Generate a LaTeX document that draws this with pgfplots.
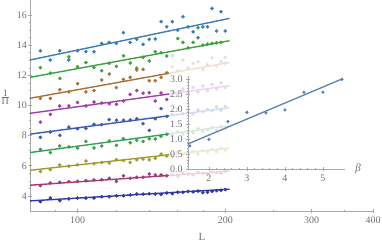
\documentclass[border=0pt]{standalone}
\usepackage{pgfplots}
\usepackage{pgfplotstable}
\pgfplotsset{compat=1.18}
\usepackage{fontspec}
\setmainfont{Liberation Serif}
\definecolor{axgray}{HTML}{A8A8A8}
\definecolor{labgray}{HTML}{707070}
\definecolor{c1}{HTML}{3D7DB3}
\definecolor{c2}{HTML}{3DA23D}
\definecolor{c3}{HTML}{A5723A}
\definecolor{c4}{HTML}{A23FA6}
\definecolor{c5}{HTML}{3A5BB0}
\definecolor{c6}{HTML}{3A9E55}
\definecolor{c7}{HTML}{A39A2E}
\definecolor{c8}{HTML}{A33A7A}
\definecolor{c9}{HTML}{30399E}
\definecolor{cin}{HTML}{5E81B5}
\pgfplotstableread{
L s1 s2 s3 s4 s5 s6 s7 s8 s9
84 13.63 12.51 10.47 8.90 7.88 7.09 5.62 4.68 3.62
88 13.02 12.15 10.47 9.41 8.24 6.87 5.75 4.86 3.86
92 13.63 11.80 11.05 9.97 8.02 7.31 6.05 4.91 3.69
96 13.02 13.23 10.90 9.97 8.57 7.25 5.98 4.95 3.80
100 13.63 12.57 11.45 10.20 8.46 7.18 6.07 4.97 3.86
104 13.57 12.85 10.90 9.97 8.48 7.62 6.32 5.01 3.86
108 13.57 12.52 11.00 10.23 8.75 7.18 6.13 5.06 3.86
112 14.12 12.30 11.69 10.16 8.73 7.31 6.22 5.08 3.95
116 14.19 12.80 12.09 10.12 9.06 7.64 6.19 5.17 3.95
120 14.12 12.60 11.19 10.08 9.02 7.36 6.41 4.97 4.01
124 14.83 13.30 11.73 10.30 9.02 7.80 6.35 5.34 4.01
128 14.19 12.82 11.87 10.74 9.04 7.53 6.23 5.17 4.06
132 14.39 12.47 12.35 11.00 9.12 7.70 6.40 5.24 4.13
136 14.06 13.20 12.40 10.82 8.79 7.62 6.45 5.24 4.12
140 14.39 12.95 11.64 10.85 8.35 7.80 6.40 5.46 4.15
144 14.41 13.57 11.64 10.30 9.12 7.78 6.50 5.39 4.13
148 15.56 13.50 11.87 10.83 9.79 7.96 6.78 5.39 4.10
152 15.22 13.28 12.17 10.40 9.28 8.09 6.65 5.34 4.20
156 15.56 13.28 12.57 10.95 9.40 8.00 6.60 5.40 4.15
160 15.00 14.45 12.30 10.70 9.75 8.25 6.90 5.30 4.25
164 15.89 14.19 13.02 11.10 9.45 8.10 6.75 5.50 4.25
168 15.22 13.83 12.50 10.85 9.55 8.30 6.85 5.45 4.30
172 14.89 14.19 12.80 11.20 9.45 8.20 6.95 5.40 4.27
176 14.50 15.16 12.90 10.90 9.70 8.45 6.80 5.55 4.32
180 15.22 14.01 12.40 11.30 9.60 8.30 7.00 5.50 4.22
184 15.22 14.06 12.70 11.00 9.75 8.40 6.95 5.45 4.25
188 16.44 14.12 13.17 11.40 9.65 8.55 7.10 5.60 4.30
192 14.94 14.16 12.64 11.10 9.90 8.35 6.95 5.55 4.35
196 16.22 14.19 12.90 11.50 9.70 8.60 7.15 5.50 4.38
200 14.94 13.20 12.80 11.20 9.95 8.50 7.05 5.65 4.42
}\maindata
\pgfplotstableread{
b s
1.5 0.77
2.0 0.99
2.5 1.58
3.0 1.89
3.5 1.87
4.0 1.97
4.5 2.56
5.0 2.56
5.5 2.99
}\insetdata
\begin{document}
\begin{tikzpicture}[x=1bp,y=1bp]
\begin{axis}[
  at={(30bp,33bp)}, anchor=south west,
  scale only axis, width=343bp, height=211bp,
  xmode=log, xmin=80, xmax=400, ymin=3, ymax=17,
  axis x line=bottom, axis y line=left,
  x axis line style={-}, y axis line style={-},
  axis line style={draw=axgray, line width=0.7bp},
  xtick={100,200,300,400}, xticklabels={100,200,300,400},
  minor xtick={90,120,140,160,180,250,350},
  ytick={4,6,8,10,12,14,16}, yticklabels={4,6,8,10,12,14,16},
  minor y tick num=3,
  tick style={draw=axgray, line width=0.6bp},
  major tick length=4bp, minor tick length=2.5bp,
  tick label style={font=\fontsize{10}{12}\selectfont, text=labgray},
  yticklabel style={inner sep=1bp},
  xlabel={L}, xlabel style={font=\fontsize{11}{13}\selectfont, text=labgray, at={(axis description cs:0.501,-0.123)}, anchor=center},
  ylabel={$\frac{\mbox{1}}{\mbox{Π}}$}, ylabel style={font=\fontsize{10}{12}\selectfont, text=labgray, rotate=-90, inner sep=0pt, at={(axis description cs:-0.072,0.54)}, anchor=center},
  clip=false,
]
\addplot[c1, only marks, mark=*, mark size=1.6bp] table[x=L,y=s1]{\maindata};
\addplot[c2, only marks, mark=*, mark size=1.6bp] table[x=L,y=s2]{\maindata};
\addplot[c3, only marks, mark=*, mark size=1.6bp] table[x=L,y=s3]{\maindata};
\addplot[c4, only marks, mark=*, mark size=1.6bp] table[x=L,y=s4]{\maindata};
\addplot[c5, only marks, mark=*, mark size=1.6bp] table[x=L,y=s5]{\maindata};
\addplot[c6, only marks, mark=*, mark size=1.6bp] table[x=L,y=s6]{\maindata};
\addplot[c7, only marks, mark=*, mark size=1.6bp] table[x=L,y=s7]{\maindata};
\addplot[c8, only marks, mark=*, mark size=1.6bp] table[x=L,y=s8]{\maindata};
\addplot[c9, only marks, mark=*, mark size=1.6bp] table[x=L,y=s9]{\maindata};
\addplot[c1, line width=1.4bp, no marks] coordinates {(80,13.02) (204,15.78)};
\addplot[c2, line width=1.4bp, no marks] coordinates {(80,11.87) (204,14.30)};
\addplot[c3, line width=1.4bp, no marks] coordinates {(80,10.48) (204,12.86)};
\addplot[c4, line width=1.4bp, no marks] coordinates {(80,9.48) (204,11.32)};
\addplot[c5, line width=1.4bp, no marks] coordinates {(80,8.10) (204,9.85)};
\addplot[c6, line width=1.4bp, no marks] coordinates {(80,6.88) (204,8.65)};
\addplot[c7, line width=1.4bp, no marks] coordinates {(80,5.70) (204,7.18)};
\addplot[c8, line width=1.4bp, no marks] coordinates {(80,4.71) (204,5.64)};
\addplot[c9, line width=1.4bp, no marks] coordinates {(80,3.67) (204,4.45)};
\end{axis}
\fill[white, opacity=0.78] (169,59) rectangle (368,189);
\begin{axis}[
  at={(188bp,75bp)}, anchor=south west,
  scale only axis, width=157bp, height=93bp,
  xmin=1.45, xmax=5.58, ymin=0, ymax=3.1,
  axis x line=bottom, axis y line=left,
  x axis line style={-}, y axis line style={-},
  axis line style={draw=axgray, line width=0.7bp},
  xtick={2,3,4,5}, xticklabels={2,3,4,5}, minor x tick num=4,
  ytick={0,0.5,1,1.5,2,2.5,3}, yticklabels={0.0,0.5,1.0,1.5,2.0,2.5,3.0}, minor y tick num=4,
  tick style={draw=axgray, line width=0.6bp},
  major tick length=4bp, minor tick length=2.5bp,
  tick label style={font=\fontsize{10}{12}\selectfont, text=labgray},
  xlabel={\textit{β}}, xlabel style={font=\fontsize{11}{13}\selectfont, text=labgray, at={(axis description cs:1.083,0.0)}, anchor=center},
  clip=false,
]
\addplot[cin, only marks, mark=*, mark size=1.4bp] table[x=b,y=s]{\insetdata};
\addplot[cin, line width=1.3bp, no marks] coordinates {(1.44,0.83) (5.5,3.0)};
\end{axis}
\pgfresetboundingbox
\path[use as bounding box] (0,0) rectangle (382,244);
\end{tikzpicture}
\end{document}
